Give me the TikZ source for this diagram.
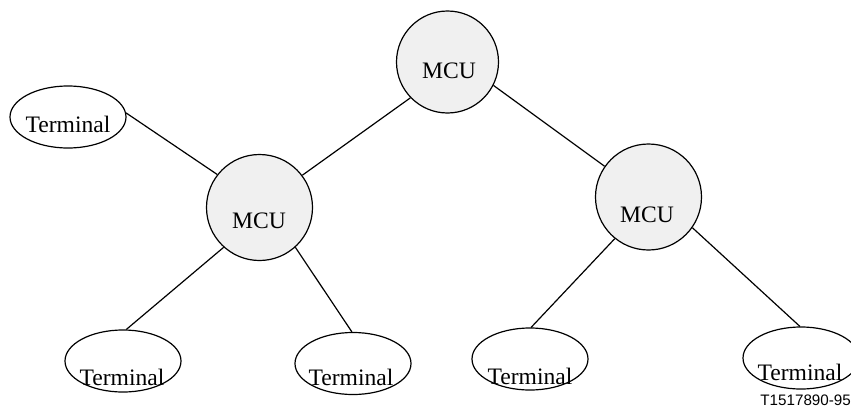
\documentclass[tikz,border=0pt]{standalone}
\usepackage{fontspec}
\setmainfont{Liberation Serif}
\newfontfamily\labelsans{Liberation Sans}
\usetikzlibrary{shapes.geometric}
\definecolor{mcufill}{HTML}{F0F0F0}
\begin{document}
\begin{tikzpicture}[x=0.5pt,y=-0.5pt,
  mcu/.style={circle,draw,line width=0.6pt,fill=mcufill,minimum size=#1*1pt,inner sep=0pt},
  term/.style={ellipse,draw,line width=0.6pt,fill=white,minimum width=58pt,minimum height=31pt,inner sep=0pt},
  lbl/.style={font=\fontsize{11.8}{13}\selectfont,inner sep=0pt,anchor=base},
  link/.style={line width=0.6pt}]
\useasboundingbox (0,0) rectangle (851,412);
% MCUs
\node[mcu=51] (m0) at (447.5,62) {};
\node[mcu=53] (m1) at (259.5,207.5) {};
\node[mcu=53] (m2) at (648.5,197) {};
% Terminals
\node[term] (t1) at (68,117) {};
\node[term] (t2) at (123,361) {};
\node[term] (t3) at (353,363.5) {};
\node[term] (t4) at (530,359) {};
\node[term] (t5) at (801,358) {};
% labels
\node[lbl] (m0l) at (449,78) {MCU};
\node[lbl] (m1l) at (259,228) {MCU};
\node[lbl] (m2l) at (647,222) {MCU};
\node[lbl] (t1l) at (68,132) {Terminal};
\node[lbl] (t2l) at (122,385) {Terminal};
\node[lbl] (t3l) at (351,385) {Terminal};
\node[lbl] (t4l) at (530,384) {Terminal};
\node[lbl] (t5l) at (800,380) {Terminal};
\node[font=\labelsans\fontsize{7.6}{9}\selectfont,inner sep=0pt,anchor=base west] (code) at (760,405) {T1517890-95};
% connectors
\draw[link] (t1.4) -- (m1.142);
\draw[link] (m0.224) -- (m1.37);
\draw[link] (m0.-27) -- (m2.145);
\draw[link] (m1.228) -- (t2.84);
\draw[link] (m1.-48) -- (t3.92);
\draw[link] (m2.231) -- (t4.88);
\draw[link] (m2.-35) -- (t5.92);
\end{tikzpicture}
\end{document}
